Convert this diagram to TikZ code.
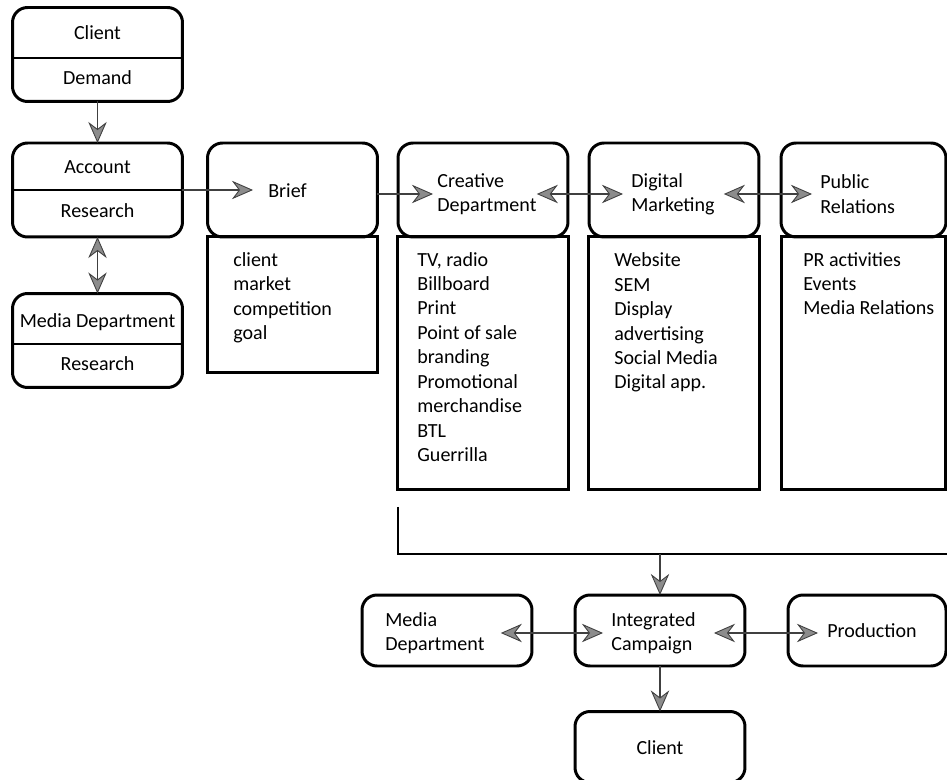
\documentclass[tikz,border=0pt]{standalone}
\usepackage{fontspec}
\setmainfont{Carlito}
\usetikzlibrary{positioning}
\usetikzlibrary{arrows.meta}
\newcommand{\boxfont}{\fontsize{11.4pt}{13.9pt}\selectfont}

\begin{document}
\begin{tikzpicture}[x=0.02cm,y=-0.02cm,
    >={Stealth[length=12pt,width=10.5pt,inset=4pt,fill=gray!90,line width=0.5pt]},
    main node/.style={draw,line width=1.7pt,rounded corners=0.3cm,minimum width=3.4cm,
                      minimum height=1.88cm,inner sep=0pt,outer sep=0pt},
    low node/.style={main node,minimum height=1.42cm},
    list node/.style={draw,line width=1.7pt,minimum width=3.42cm,inner sep=0pt,outer sep=0pt},
    label node/.style={font=\boxfont,inner sep=0pt,align=left},
    link/.style={draw=black!75,line width=0.8pt}]

  \useasboundingbox (0,0) rectangle (947,780);
  \clip (0,0) rectangle (947,780);

  % left column
  \node[main node] (client) at (97.5,54.5) {};
  \node[main node] (account) at (97.5,190) {};
  \node[main node] (media) at (97.5,340.5) {};
  \draw[line width=1.7pt] (client.west |- 0,58) -- (client.east |- 0,58);
  \draw[line width=1.7pt] (account.west) -- (account.east);
  \draw[line width=1.7pt] (media.west |- 0,344) -- (media.east |- 0,344);

  \node[label node,anchor=base] (clientT) at (97.5,40) {Client};
  \node[label node,anchor=base] (demandT) at (97.5,85) {Demand};
  \node[label node,anchor=base] (accountT) at (97.5,174) {Account};
  \node[label node,anchor=base] (researchT) at (97.5,218) {Research};
  \node[label node,anchor=base] (mediaT) at (97.5,328) {Media Department};
  \node[label node,anchor=base] (research2T) at (97.5,371) {Research};

  % top row
  \node[main node] (brief) at (292.5,190) {};
  \node[main node] (creative) at (483,190) {};
  \node[main node] (digital) at (674,190) {};
  \node[main node,minimum width=3.3cm] (public) at (863.5,190) {};

  \node[list node,minimum height=2.72cm,below=0pt of brief] (briefL) {};
  \node[list node,minimum height=5.06cm,below=0pt of creative] (creativeL) {};
  \node[list node,minimum height=5.06cm,below=0pt of digital] (digitalL) {};
  \node[list node,minimum height=5.06cm,minimum width=3.3cm,below=0pt of public] (publicL) {};

  \node[label node,anchor=west] (briefT) at (268,191) {Brief};
  \node[label node,anchor=west] (creativeT) at (437,194) {Creative\\Department};
  \node[label node,anchor=west] (digitalT) at (631,194) {Digital\\Marketing};
  \node[label node,anchor=west] (publicT) at (820,194) {Public\\Relations};

  % lists, placed by the baseline of their last line
  \node[label node,anchor=base west] (briefX) at (233,339.5)
    {client\\market\\competition\\goal};
  \node[label node,anchor=base west] (creativeX) at (417,461.5)
    {TV, radio\\Billboard\\Print\\Point of sale\\branding\\Promotional\\merchandise\\BTL\\Guerrilla};
  \node[label node,anchor=base west] (digitalX) at (614,389)
    {Website\\SEM\\Display\\advertising\\Social Media\\Digital app.};
  \node[label node,anchor=base west] (publicX) at (803,315)
    {PR activities\\Events\\Media Relations};

  % bottom part
  \draw[line width=1.7pt] (398,507) -- (398,554) -- (960,554);
  \coordinate (bracket) at (660,554);

  \node[low node] (media2) at (447,630.5) {};
  \node[low node] (campaign) at (660,630.5) {};
  \node[low node,minimum width=3.16cm] (production) at (867,630.5) {};
  \node[low node] (client2) at (660,747) {};

  \node[label node,anchor=west] (media2T) at (385,633) {Media\\Department};
  \node[label node,anchor=west] (campaignT) at (611,633) {Integrated\\Campaign};
  \node[label node,anchor=west] (productionT) at (827,631) {Production};
  \node[label node] (client2T) at (660,748) {Client};

  \path[link]
    (client) edge[->] (account)
    (account) edge[<->] (media)
    (account.east) edge[->,shorten >=0.3cm] (account.east -| briefT.west)
    (creativeT.west -| brief.east) edge[->,shorten >=0.08cm] (creativeT.west)
    (creativeT.east) edge[<->,shorten >=0.16cm] (digitalT.west)
    (digitalT.east) edge[<->,shorten <=0.18cm,shorten >=0.16cm] (publicT.west)
    (bracket) edge[->] (campaign)
    (media2T.east) edge[<->,shorten <=0.32cm,shorten >=0.16cm] (campaignT.west)
    (campaignT.east) edge[<->,shorten <=0.36cm,shorten >=0.18cm] (campaignT.east -| productionT.west)
    (campaign) edge[->] (client2);

\end{tikzpicture}
\end{document}
